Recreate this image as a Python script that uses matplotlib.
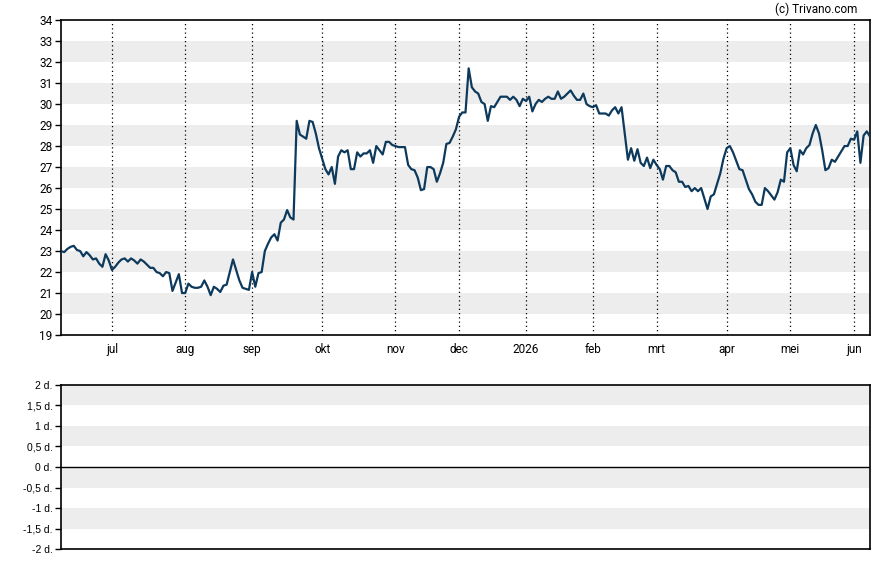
import pandas as pd
import numpy as np
import matplotlib.pyplot as plt

# closing prices, one per trading day (Euronext calendar)
prices = [
    23.0, 22.95, 23.1, 23.2, 23.25, 23.05, 23.0, 22.75, 22.95, 22.8,
    22.6, 22.65, 22.4, 22.25, 22.85, 22.55, 22.1, 22.25, 22.45, 22.6,
    22.65, 22.5, 22.65, 22.55, 22.4, 22.6, 22.5, 22.35, 22.2, 22.2,
    22.0, 21.95, 21.8, 22.0, 21.95, 21.1, 21.5, 21.9, 21.0, 21.0,
    21.45, 21.3, 21.25, 21.25, 21.3, 21.6, 21.3, 20.9, 21.3, 21.2,
    21.05, 21.35, 21.4, 22.0, 22.6, 22.1, 21.6, 21.25, 21.2, 21.15,
    22.0, 21.3, 21.95, 22.0, 23.0, 23.35, 23.65, 23.8, 23.5, 24.35,
    24.5, 24.95, 24.6, 24.5, 29.2, 28.55, 28.45, 28.35, 29.2, 29.15,
    28.6, 27.9, 27.4, 26.9, 26.65, 27.0, 26.2, 27.5, 27.8, 27.7,
    27.8, 26.9, 26.9, 27.7, 27.5, 27.65, 27.65, 27.8, 27.2, 28.0,
    27.8, 27.6, 28.2, 28.2, 28.05, 28.0, 27.95, 27.95, 27.95, 27.1,
    26.9, 26.85, 26.5, 25.9, 25.95, 27.0, 27.0, 26.9, 26.3, 26.7,
    27.2, 28.1, 28.15, 28.45, 28.8, 29.4, 29.6, 29.6, 31.7, 30.8,
    30.6, 30.5, 30.1, 30.0, 29.2, 29.9, 29.85, 30.1, 30.35, 30.35,
    30.35, 30.2, 30.35, 30.2, 29.9, 30.25, 30.15, 30.35, 29.65, 30.0,
    30.2, 30.1, 30.25, 30.35, 30.25, 30.25, 30.6, 30.25, 30.35, 30.5,
    30.65, 30.4, 30.2, 30.2, 30.5, 30.0, 29.9, 29.85, 29.95, 29.55,
    29.55, 29.55, 29.45, 29.7, 29.85, 29.55, 29.85, 28.6, 27.35, 27.9,
    27.3, 27.85, 27.2, 27.05, 27.45, 26.95, 27.35, 27.1, 26.9, 26.4,
    27.05, 27.05, 26.85, 26.75, 26.3, 26.3, 26.05, 26.1, 25.85, 26.0,
    25.85, 26.0, 25.5, 25.0, 25.6, 25.7, 26.2, 26.7, 27.4, 27.9,
    28.0, 27.7, 27.3, 26.9, 26.85, 26.4, 25.95, 25.7, 25.35, 25.2,
    25.2, 26.0, 25.85, 25.65, 25.45, 25.8, 26.4, 26.3, 27.7, 27.9,
    27.1, 26.8, 27.8, 27.6, 27.9, 28.05, 28.6, 29.0, 28.6, 27.8,
    26.85, 26.95, 27.35, 27.25, 27.5, 27.75, 28.0, 28.0, 28.35, 28.3,
    28.7, 27.2, 28.5, 28.7, 28.45,
]

holidays = ['2025-12-25', '2025-12-26', '2026-01-01', '2026-04-03', '2026-04-06', '2026-05-01']
month_names = ['jan', 'feb', 'mrt', 'apr', 'mei', 'jun', 'jul', 'aug', 'sep', 'okt', 'nov', 'dec']
volume_ticks = [2, 1.5, 1, 0.5, 0, -0.5, -1, -1.5, -2]

dates = pd.bdate_range('2025-06-09', '2026-06-08')
dates = dates[~dates.isin(pd.to_datetime(holidays))]
df = pd.DataFrame({'date': dates, 'close': prices})
df['pos'] = np.arange(len(df))

# first trading day of each month (skip the partial first month)
firsts = df.groupby([df.date.dt.year, df.date.dt.month]).head(1).iloc[1:]
tick_pos = firsts.pos.values
tick_lbl = [str(d.year) if d.month == 1 else month_names[d.month - 1] for d in firsts.date]

plt.rcParams['font.family'] = ['Roboto', 'DejaVu Sans']
line_color = '#0d3a5c'
band_color = '#ededed'

fig = plt.figure(figsize=(8.88, 5.65), dpi=100)
ax = fig.add_axes([0.0687, 0.407, 0.911, 0.5575])
ax2 = fig.add_axes([0.0687, 0.0283, 0.911, 0.2903])

# price panel
for lo in range(20, 34, 2):
    ax.axhspan(lo, lo + 1, color=band_color, lw=0, zorder=0)
for p in tick_pos:
    ax.axvline(p, color='black', lw=0.9, ls=(0, (1, 2.4)), zorder=1)
ax.plot(df.pos, df.close, color=line_color, lw=1.6, zorder=3)
ax.set_xlim(0, len(df) - 1)
ax.set_ylim(19, 34)
ax.set_yticks(range(19, 35))
ax.set_xticks(tick_pos)
ax.set_xticklabels(tick_lbl)
ax.tick_params(axis='x', length=0, pad=6, labelsize=8.5)
ax.tick_params(axis='y', length=4, width=1, pad=2, labelsize=8.5)
for s in ax.spines.values():
    s.set_linewidth(1.2)

# empty lower panel
for lo in [1.5, 0.5, -0.5, -1.5]:
    ax2.axhspan(lo, lo + 0.5, color=band_color, lw=0, zorder=0)
ax2.axhline(0, color='black', lw=1, zorder=2)
ax2.set_xlim(0, len(df) - 1)
ax2.set_ylim(-2, 2)
ax2.set_xticks([])
ax2.set_yticks(volume_ticks)
ax2.set_yticklabels([('%g d.' % v).replace('.', ',', 1) if v != int(v) else '%d d.' % v
                     for v in volume_ticks], family='Liberation Sans')
ax2.tick_params(axis='y', length=4, width=1, pad=2, labelsize=7.5)
for s in ax2.spines.values():
    s.set_linewidth(1.2)

fig.text(0.966, 0.984, '(c) Trivano.com', ha='right', va='center', fontsize=8.5)

fig.savefig('out.png', dpi=100)
